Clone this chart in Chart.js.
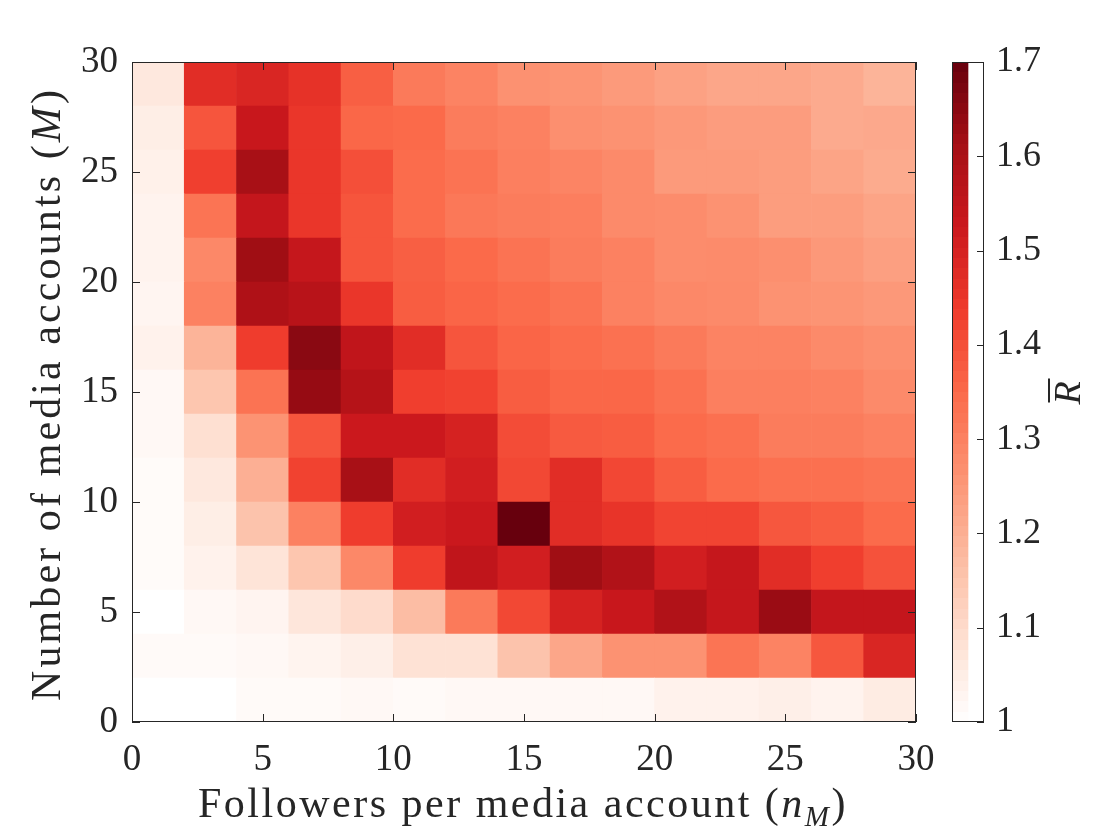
<!DOCTYPE html>
<html>
<head>
<meta charset="utf-8">
<script src="https://cdn.jsdelivr.net/npm/chart.js@4.4.1/dist/chart.umd.min.js"></script>
<style>
  body { margin: 0; background: #fff; }
  #wrap { position: relative; width: 1120px; height: 840px; background: #fff; }
  #wrap canvas { position: absolute; left: 0; top: 0; }
</style>
</head>
<body>
<div id="wrap">
  <canvas id="heat" width="1120" height="840"></canvas>
  <canvas id="cbar" width="1120" height="840"></canvas>
</div>
<script>
// bin centres (each cell is 2 wide)
const followers = [1, 3, 5, 7, 9, 11, 13, 15, 17, 19, 21, 23, 25, 27, 29];   // n_M
const accounts  = [29, 27, 25, 23, 21, 19, 17, 15, 13, 11, 9, 7, 5, 3, 1];  // M, top row first
const binWidth = 2;

// mean R per cell, rows follow `accounts`, columns follow `followers`
const rBar = [
  [1.065, 1.472, 1.490, 1.460, 1.370, 1.315, 1.295, 1.265, 1.258, 1.245, 1.230, 1.219, 1.219, 1.211, 1.190],
  [1.048, 1.389, 1.532, 1.450, 1.355, 1.350, 1.310, 1.300, 1.270, 1.262, 1.250, 1.241, 1.241, 1.211, 1.215],
  [1.040, 1.430, 1.606, 1.450, 1.400, 1.345, 1.330, 1.305, 1.293, 1.280, 1.245, 1.245, 1.240, 1.225, 1.210],
  [1.034, 1.328, 1.541, 1.450, 1.390, 1.345, 1.320, 1.310, 1.306, 1.280, 1.275, 1.262, 1.240, 1.240, 1.225],
  [1.034, 1.285, 1.620, 1.539, 1.390, 1.370, 1.350, 1.330, 1.310, 1.300, 1.275, 1.278, 1.268, 1.250, 1.235],
  [1.028, 1.300, 1.590, 1.569, 1.450, 1.375, 1.360, 1.345, 1.330, 1.300, 1.285, 1.280, 1.262, 1.258, 1.250],
  [1.037, 1.190, 1.435, 1.650, 1.550, 1.472, 1.389, 1.360, 1.345, 1.335, 1.315, 1.295, 1.295, 1.280, 1.270],
  [1.020, 1.150, 1.330, 1.634, 1.575, 1.432, 1.425, 1.375, 1.355, 1.355, 1.335, 1.305, 1.305, 1.300, 1.280],
  [1.020, 1.088, 1.260, 1.389, 1.525, 1.525, 1.500, 1.405, 1.380, 1.375, 1.348, 1.337, 1.310, 1.310, 1.300],
  [1.011, 1.065, 1.200, 1.425, 1.606, 1.472, 1.510, 1.413, 1.472, 1.415, 1.375, 1.348, 1.337, 1.337, 1.328],
  [1.011, 1.048, 1.155, 1.300, 1.435, 1.510, 1.528, 1.700, 1.472, 1.455, 1.420, 1.420, 1.385, 1.375, 1.348],
  [1.011, 1.037, 1.076, 1.150, 1.285, 1.435, 1.550, 1.510, 1.620, 1.585, 1.510, 1.539, 1.472, 1.432, 1.395],
  [1.000, 1.020, 1.030, 1.070, 1.099, 1.170, 1.315, 1.413, 1.500, 1.532, 1.585, 1.539, 1.628, 1.541, 1.541],
  [1.014, 1.014, 1.020, 1.031, 1.045, 1.082, 1.082, 1.155, 1.219, 1.262, 1.262, 1.328, 1.295, 1.385, 1.490],
  [1.000, 1.000, 1.014, 1.014, 1.020, 1.014, 1.020, 1.020, 1.020, 1.020, 1.037, 1.037, 1.045, 1.034, 1.054]
];

const axisTicks = [0, 5, 10, 15, 20, 25, 30];
const cbTicks = [1, 1.1, 1.2, 1.3, 1.4, 1.5, 1.6, 1.7];
const cbLabels = ['1', '1.1', '1.2', '1.3', '1.4', '1.5', '1.6', '1.7'];
const rMin = 1, rMax = 1.7;

// Reds colormap
const cmapPos = [0, 0.125, 0.25, 0.375, 0.5, 0.625, 0.75, 0.875, 1];
const cmapHex = ['#ffffff', '#fee0d2', '#fcbba1', '#fc9272', '#fb6a4a', '#ef3b2c', '#cb181d', '#a50f15', '#67000d'];

const ink = '#262626';
const serif = "'Liberation Serif', 'Times New Roman', serif";
Chart.defaults.font.family = serif;
Chart.defaults.color = ink;

function hexRgb(h) {
  return [1, 3, 5].map(i => parseInt(h.substr(i, 2), 16));
}

function cmap(v) {
  let t = (v - rMin) / (rMax - rMin);
  t = Math.max(0, Math.min(1, t));
  let i = 0;
  while (i < cmapPos.length - 2 && t > cmapPos[i + 1]) i++;
  const f = (t - cmapPos[i]) / (cmapPos[i + 1] - cmapPos[i]);
  const a = hexRgb(cmapHex[i]), b = hexRgb(cmapHex[i + 1]);
  const c = a.map((x, k) => Math.round(x + (b[k] - x) * f));
  return `rgb(${c[0]},${c[1]},${c[2]})`;
}

// one floating bar per cell
const cells = [];
accounts.forEach((m, r) => {
  followers.forEach((n, c) => {
    cells.push({ x: n, y: [m - binWidth / 2, m + binWidth / 2], v: rBar[r][c] });
  });
});

function line(ctx, x0, y0, x1, y1) {
  ctx.beginPath();
  ctx.moveTo(x0, y0);
  ctx.lineTo(x1, y1);
  ctx.stroke();
}

// text with italic / subscript pieces, stretched to a given width
function drawMath(ctx, runs, size, target) {
  const fontOf = r => `${r.it ? 'italic ' : ''}${r.sub ? Math.round(size * 0.7) : size}px ${serif}`;
  let natural = 0, chars = 0;
  ctx.letterSpacing = '0px';
  runs.forEach(r => {
    ctx.font = fontOf(r);
    natural += ctx.measureText(r.t).width;
    chars += r.t.length;
  });
  const sp = (target - natural) / chars;
  ctx.letterSpacing = sp + 'px';
  ctx.textAlign = 'left';
  ctx.textBaseline = 'alphabetic';
  let x = -target / 2;
  runs.forEach(r => {
    ctx.font = fontOf(r);
    ctx.fillText(r.t, x, r.sub ? size * 0.22 : 0);
    x += ctx.measureText(r.t).width;
  });
  ctx.letterSpacing = '0px';
}

const heatFrame = {
  id: 'heatFrame',
  afterDatasetsDraw(chart) {
    const ctx = chart.ctx, a = chart.chartArea;
    const xs = chart.scales.x, ys = chart.scales.y;
    ctx.save();
    ctx.strokeStyle = ink;
    ctx.lineWidth = 1;
    axisTicks.forEach(v => {
      const px = Math.round(xs.getPixelForValue(v)) + 0.5;
      line(ctx, px, a.bottom, px, a.bottom - 8);
      line(ctx, px, a.top, px, a.top + 8);
      const py = Math.round(ys.getPixelForValue(v)) + 0.5;
      line(ctx, a.left, py, a.left + 8, py);
      line(ctx, a.right, py, a.right - 8, py);
    });
    ctx.strokeRect(Math.round(a.left) + 0.5, Math.round(a.top) + 0.5,
      Math.round(a.right - a.left) - 1, Math.round(a.bottom - a.top) - 1);
    ctx.restore();
  },
  afterDraw(chart) {
    const ctx = chart.ctx;
    ctx.save();
    ctx.fillStyle = ink;
    ctx.translate(523, 817);
    drawMath(ctx, [{ t: 'Followers per media account (' }, { t: 'n', it: true },
      { t: 'M', it: true, sub: true }, { t: ')' }], 42, 650);
    ctx.restore();

    ctx.save();
    ctx.fillStyle = ink;
    ctx.translate(60, 394);
    ctx.rotate(-Math.PI / 2);
    drawMath(ctx, [{ t: 'Number of media accounts (' }, { t: 'M', it: true }, { t: ')' }], 42, 614);
    ctx.restore();
  }
};

const cbFrame = {
  id: 'cbFrame',
  afterDatasetsDraw(chart) {
    const ctx = chart.ctx, a = chart.chartArea, ys = chart.scales.y;
    ctx.save();
    ctx.strokeStyle = ink;
    ctx.lineWidth = 1;
    cbTicks.forEach(v => {
      const py = Math.round(ys.getPixelForValue(v)) + 0.5;
      line(ctx, a.right, py, a.right - 7, py);
    });
    ctx.strokeRect(Math.round(a.left) + 0.5, Math.round(a.top) + 0.5,
      Math.round(a.right - a.left) - 1, Math.round(a.bottom - a.top) - 1);

    // colorbar label: R with overbar
    ctx.fillStyle = ink;
    ctx.translate(1080, 393);
    ctx.rotate(-Math.PI / 2);
    ctx.font = `italic 38px ${serif}`;
    ctx.textAlign = 'left';
    ctx.textBaseline = 'alphabetic';
    const w = ctx.measureText('R').width;
    ctx.fillText('R', -w / 2, 0);
    ctx.lineWidth = 2;
    line(ctx, -w / 2 + 2, -31, w / 2 + 3, -31);
    ctx.restore();
  }
};

new Chart(document.getElementById('heat'), {
  type: 'bar',
  data: {
    datasets: [{
      data: cells,
      backgroundColor: c => (c.raw ? cmap(c.raw.v) : '#ffffff'),
      borderWidth: 0,
      barPercentage: 1,
      categoryPercentage: 1
    }]
  },
  options: {
    responsive: false,
    animation: false,
    events: [],
    layout: { padding: { left: 0, top: 62, right: 204, bottom: 0 } },
    plugins: { legend: { display: false }, tooltip: { enabled: false } },
    scales: {
      x: {
        type: 'linear', min: 0, max: 30, offset: false,
        grid: { display: false, drawTicks: false, offset: false },
        border: { display: false },
        afterBuildTicks: s => { s.ticks = axisTicks.map(v => ({ value: v })); },
        afterFit: s => { s.height = 118; },
        ticks: { padding: 16, font: { size: 37 }, color: ink, maxRotation: 0, autoSkip: false }
      },
      y: {
        type: 'linear', min: 0, max: 30,
        grid: { display: false, drawTicks: false },
        border: { display: false },
        afterBuildTicks: s => { s.ticks = axisTicks.map(v => ({ value: v })); },
        afterFit: s => { s.width = 132; },
        ticks: { padding: 14, font: { size: 37 }, color: ink, autoSkip: false }
      }
    }
  },
  plugins: [heatFrame]
});

// stepped gradient for the colour bar
function cbFill(c) {
  const chart = c.chart, ys = chart.scales.y;
  if (!chart.chartArea || !ys) return '#ffffff';
  const y0 = ys.getPixelForValue(rMin), y1 = ys.getPixelForValue(rMax);
  const g = chart.ctx.createLinearGradient(0, y0, 0, y1);
  const steps = 64;
  for (let k = 0; k < steps; k++) {
    const col = cmap(rMin + (rMax - rMin) * (k + 0.5) / steps);
    g.addColorStop(k / steps, col);
    g.addColorStop((k + 1) / steps, col);
  }
  return g;
}

new Chart(document.getElementById('cbar'), {
  type: 'bar',
  data: {
    labels: ['R'],
    datasets: [{
      data: [[rMin, rMax]],
      backgroundColor: cbFill,
      borderWidth: 0,
      barPercentage: 1,
      categoryPercentage: 1
    }]
  },
  options: {
    responsive: false,
    animation: false,
    events: [],
    layout: { padding: { left: 952, top: 62, right: 0, bottom: 118 } },
    plugins: { legend: { display: false }, tooltip: { enabled: false } },
    scales: {
      x: { display: false, offset: false },
      y: {
        position: 'right', min: rMin, max: rMax,
        grid: { display: false, drawTicks: false },
        border: { display: false },
        afterBuildTicks: s => { s.ticks = cbTicks.map(v => ({ value: v })); },
        afterFit: s => { s.width = 136; },
        ticks: { padding: 12, font: { size: 36 }, color: ink, autoSkip: false,
                 callback: (v, i) => cbLabels[i] }
      }
    }
  },
  plugins: [cbFrame]
});
</script>
</body>
</html>
